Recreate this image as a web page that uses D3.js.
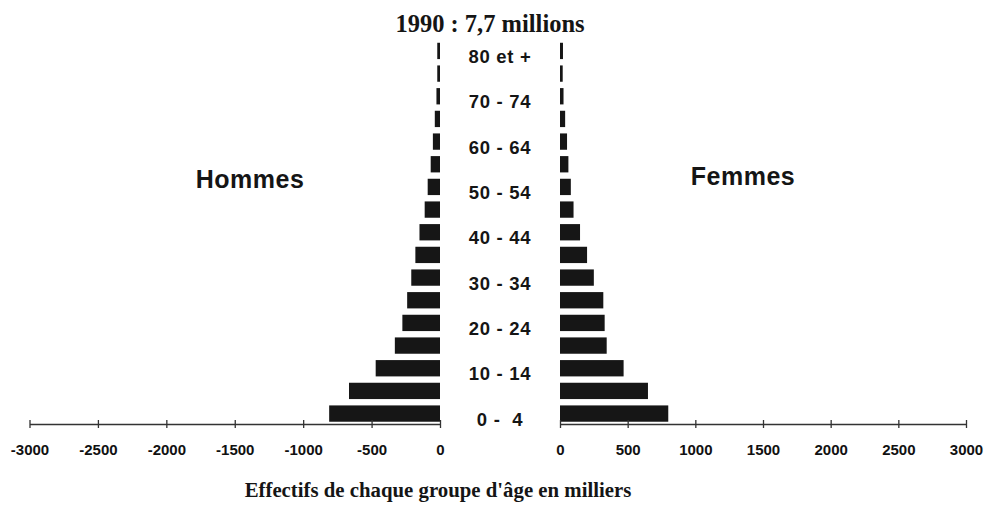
<!DOCTYPE html>
<html>
<head>
<meta charset="utf-8">
<script src="https://cdn.jsdelivr.net/npm/d3@7"></script>
<style>
  body { margin: 0; background: #fff; }
  svg { display: block; }
</style>
</head>
<body>
<div id="chart"></div>
<script>
// age groups, bottom to top
var groups = ["0-4", "5-9", "10-14", "15-19", "20-24", "25-29", "30-34", "35-39",
  "40-44", "45-49", "50-54", "55-59", "60-64", "65-69", "70-74", "75-79", "80+"];
// effectifs en milliers
var hommes = [810, 665, 470, 330, 275, 240, 210, 180, 150, 112, 90, 68, 52, 38, 26, 20, 20];
var femmes = [800, 650, 470, 345, 330, 320, 250, 200, 148, 100, 80, 62, 52, 38, 26, 20, 22];
// labels shown in the middle column
var ageLabels = {"0-4": "0 -  4", "10-14": "10 - 14", "20-24": "20 - 24", "30-34": "30 - 34",
  "40-44": "40 - 44", "50-54": "50 - 54", "60-64": "60 - 64", "70-74": "70 - 74", "80+": "80 et +"};
var ticksLeft = [-3000, -2500, -2000, -1500, -1000, -500, 0];
var ticksRight = [0, 500, 1000, 1500, 2000, 2500, 3000];

var width = 993, height = 508;
var axisY = 424;

var svg = d3.select("#chart").append("svg")
  .attr("width", width)
  .attr("height", height);

var xLeft = d3.scaleLinear().domain([-3000, 0]).range([29.5, 440]);
var xRight = d3.scaleLinear().domain([0, 3000]).range([560, 966]);
var y = d3.scaleBand().domain(groups).range([424, 40.5])
  .paddingInner(0.28).paddingOuter(0.1);

svg.append("g").selectAll("rect")
  .data(groups)
  .join("rect")
  .attr("x", function(d, i) { return xLeft(-hommes[i]); })
  .attr("width", function(d, i) { return xLeft(0) - xLeft(-hommes[i]); })
  .attr("y", function(d) { return y(d); })
  .attr("height", y.bandwidth())
  .attr("fill", "#161616");

svg.append("g").selectAll("rect")
  .data(groups)
  .join("rect")
  .attr("x", xRight(0))
  .attr("width", function(d, i) { return xRight(femmes[i]) - xRight(0); })
  .attr("y", function(d) { return y(d); })
  .attr("height", y.bandwidth())
  .attr("fill", "#161616");

function drawAxis(scale, vals) {
  var g = svg.append("g")
    .attr("transform", "translate(0," + axisY + ")")
    .call(d3.axisBottom(scale).tickValues(vals)
      .tickFormat(function(d) { return String(d); })
      .tickSize(4).tickSizeOuter(0).tickPadding(16));
  g.select(".domain").attr("stroke", "#333").attr("stroke-width", 1.3);
  g.selectAll(".tick line").attr("y1", -4).attr("stroke", "#333").attr("stroke-width", 1.3);
  g.selectAll(".tick text")
    .attr("font-family", "Liberation Sans, Arial, sans-serif")
    .attr("font-weight", "bold")
    .attr("font-size", 15)
    .attr("fill", "#111");
}
drawAxis(xLeft, ticksLeft);
drawAxis(xRight, ticksRight);

svg.append("g").selectAll("text")
  .data(groups.filter(function(d) { return ageLabels[d]; }))
  .join("text")
  .attr("x", 500)
  .attr("y", function(d) { return y(d) + y.bandwidth() / 2 + 12; })
  .attr("text-anchor", "middle")
  .style("white-space", "pre")
  .attr("font-family", "Liberation Sans, Arial, sans-serif")
  .attr("font-weight", "bold")
  .attr("font-size", 18.5)
  .attr("letter-spacing", 0.7)
  .attr("fill", "#151515")
  .text(function(d) { return ageLabels[d]; });

svg.append("text")
  .attr("x", 250).attr("y", 188)
  .attr("text-anchor", "middle")
  .attr("font-family", "Liberation Sans, Arial, sans-serif")
  .attr("font-weight", "bold")
  .attr("font-size", 25)
  .attr("letter-spacing", 0.5)
  .attr("fill", "#151515")
  .text("Hommes");

svg.append("text")
  .attr("x", 743).attr("y", 185)
  .attr("text-anchor", "middle")
  .attr("font-family", "Liberation Sans, Arial, sans-serif")
  .attr("font-weight", "bold")
  .attr("font-size", 25)
  .attr("letter-spacing", 0.5)
  .attr("fill", "#151515")
  .text("Femmes");

svg.append("text")
  .attr("x", 490).attr("y", 32)
  .attr("text-anchor", "middle")
  .attr("font-family", "Liberation Serif, Times New Roman, serif")
  .attr("font-weight", "bold")
  .attr("font-size", 24.5)
  .attr("fill", "#151515")
  .text("1990 : 7,7 millions");

svg.append("text")
  .attr("x", 438).attr("y", 497)
  .attr("text-anchor", "middle")
  .attr("font-family", "Liberation Serif, Times New Roman, serif")
  .attr("font-weight", "bold")
  .attr("font-size", 20.8)
  .attr("fill", "#151515")
  .text("Effectifs de chaque groupe d'âge en milliers");
</script>
</body>
</html>
